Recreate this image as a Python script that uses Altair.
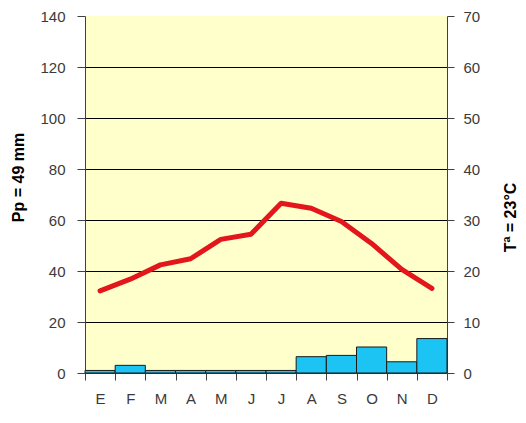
import altair as alt
import pandas as pd

meses = ["Ene", "Feb", "Mar", "Abr", "May", "Jun", "Jul", "Ago", "Sep", "Oct", "Nov", "Dic"]
precipitacion = [1, 3, 1, 1, 1, 1, 1, 6.4, 6.9, 10.2, 4.4, 13.5]
temperatura = [16.1, 18.4, 21.2, 22.4, 26.2, 27.2, 33.3, 32.3, 29.7, 25.4, 20.3, 16.6]
pp_ticks = [0, 20, 40, 60, 80, 100, 120, 140]
t_ticks = [0, 10, 20, 30, 40, 50, 60, 70]

df = pd.DataFrame({"mes": meses, "pp": precipitacion, "t": temperatura})

FONT = "Liberation Sans"
LABEL_COLOR = "#3a3a3a"
AXIS_COLOR = "#404040"

x = alt.X(
    "mes:N",
    sort=meses,
    scale=alt.Scale(paddingInner=0, paddingOuter=0),
    axis=alt.Axis(
        title=None,
        labelExpr="substring(datum.label, 0, 1)",
        labelAngle=0,
        tickBand="extent",
        tickSize=7,
        tickColor=AXIS_COLOR,
        domainColor=AXIS_COLOR,
        labelPadding=11,
        labelFontSize=15,
        labelFont=FONT,
        labelColor=LABEL_COLOR,
        grid=False,
    ),
)

bars = alt.Chart(df).mark_bar(
    color="#1BC4F3", stroke="#1a1a1a", strokeWidth=1
).encode(
    x=x,
    y=alt.Y(
        "pp:Q",
        scale=alt.Scale(domain=[0, 140], nice=False),
        axis=alt.Axis(
            title="Pp = 49 mm",
            values=pp_ticks,
            grid=True,
            gridColor=alt.condition("datum.value == 140", alt.value("transparent"), alt.value("#000000")),
            gridWidth=1,
            tickSize=8,
            tickColor=AXIS_COLOR,
            domainColor=AXIS_COLOR,
            labelPadding=12,
            labelFontSize=15,
            labelFont=FONT,
            labelColor=LABEL_COLOR,
            titleFont=FONT,
            titleFontSize=16,
            titleFontWeight="bold",
            titleColor="#000000",
            titleAngle=270,
            titleAlign="center",
            titleBaseline="middle",
            titleX=-67,
            titleY=161,
        ),
    ),
)

line = alt.Chart(df).mark_line(
    color="#E3161B", strokeWidth=5, strokeJoin="round", strokeCap="round"
).encode(
    x=x,
    y=alt.Y(
        "t:Q",
        scale=alt.Scale(domain=[0, 70], nice=False),
        axis=alt.Axis(
            orient="right",
            title="Tª = 23°C",
            values=t_ticks,
            grid=False,
            tickSize=7,
            tickColor=AXIS_COLOR,
            domainColor=AXIS_COLOR,
            labelPadding=9,
            labelFontSize=15,
            labelFont=FONT,
            labelColor=LABEL_COLOR,
            titleFont=FONT,
            titleFontSize=16,
            titleFontWeight="bold",
            titleColor="#000000",
            titleAngle=270,
            titleAlign="center",
            titleBaseline="middle",
            titleX=63,
            titleY=201,
        ),
    ),
)

chart = (
    alt.layer(bars, line)
    .resolve_scale(y="independent")
    .properties(
        width=362,
        height=357,
        autosize=alt.AutoSizeParams(type="none"),
        padding={"left": 77, "top": 8, "right": 71, "bottom": 42},
        background="#ffffff",
    )
    .configure_view(fill="#FFFFCC", strokeWidth=0)
)

chart.save("out.html", embed_options={"renderer": "svg", "actions": False})
